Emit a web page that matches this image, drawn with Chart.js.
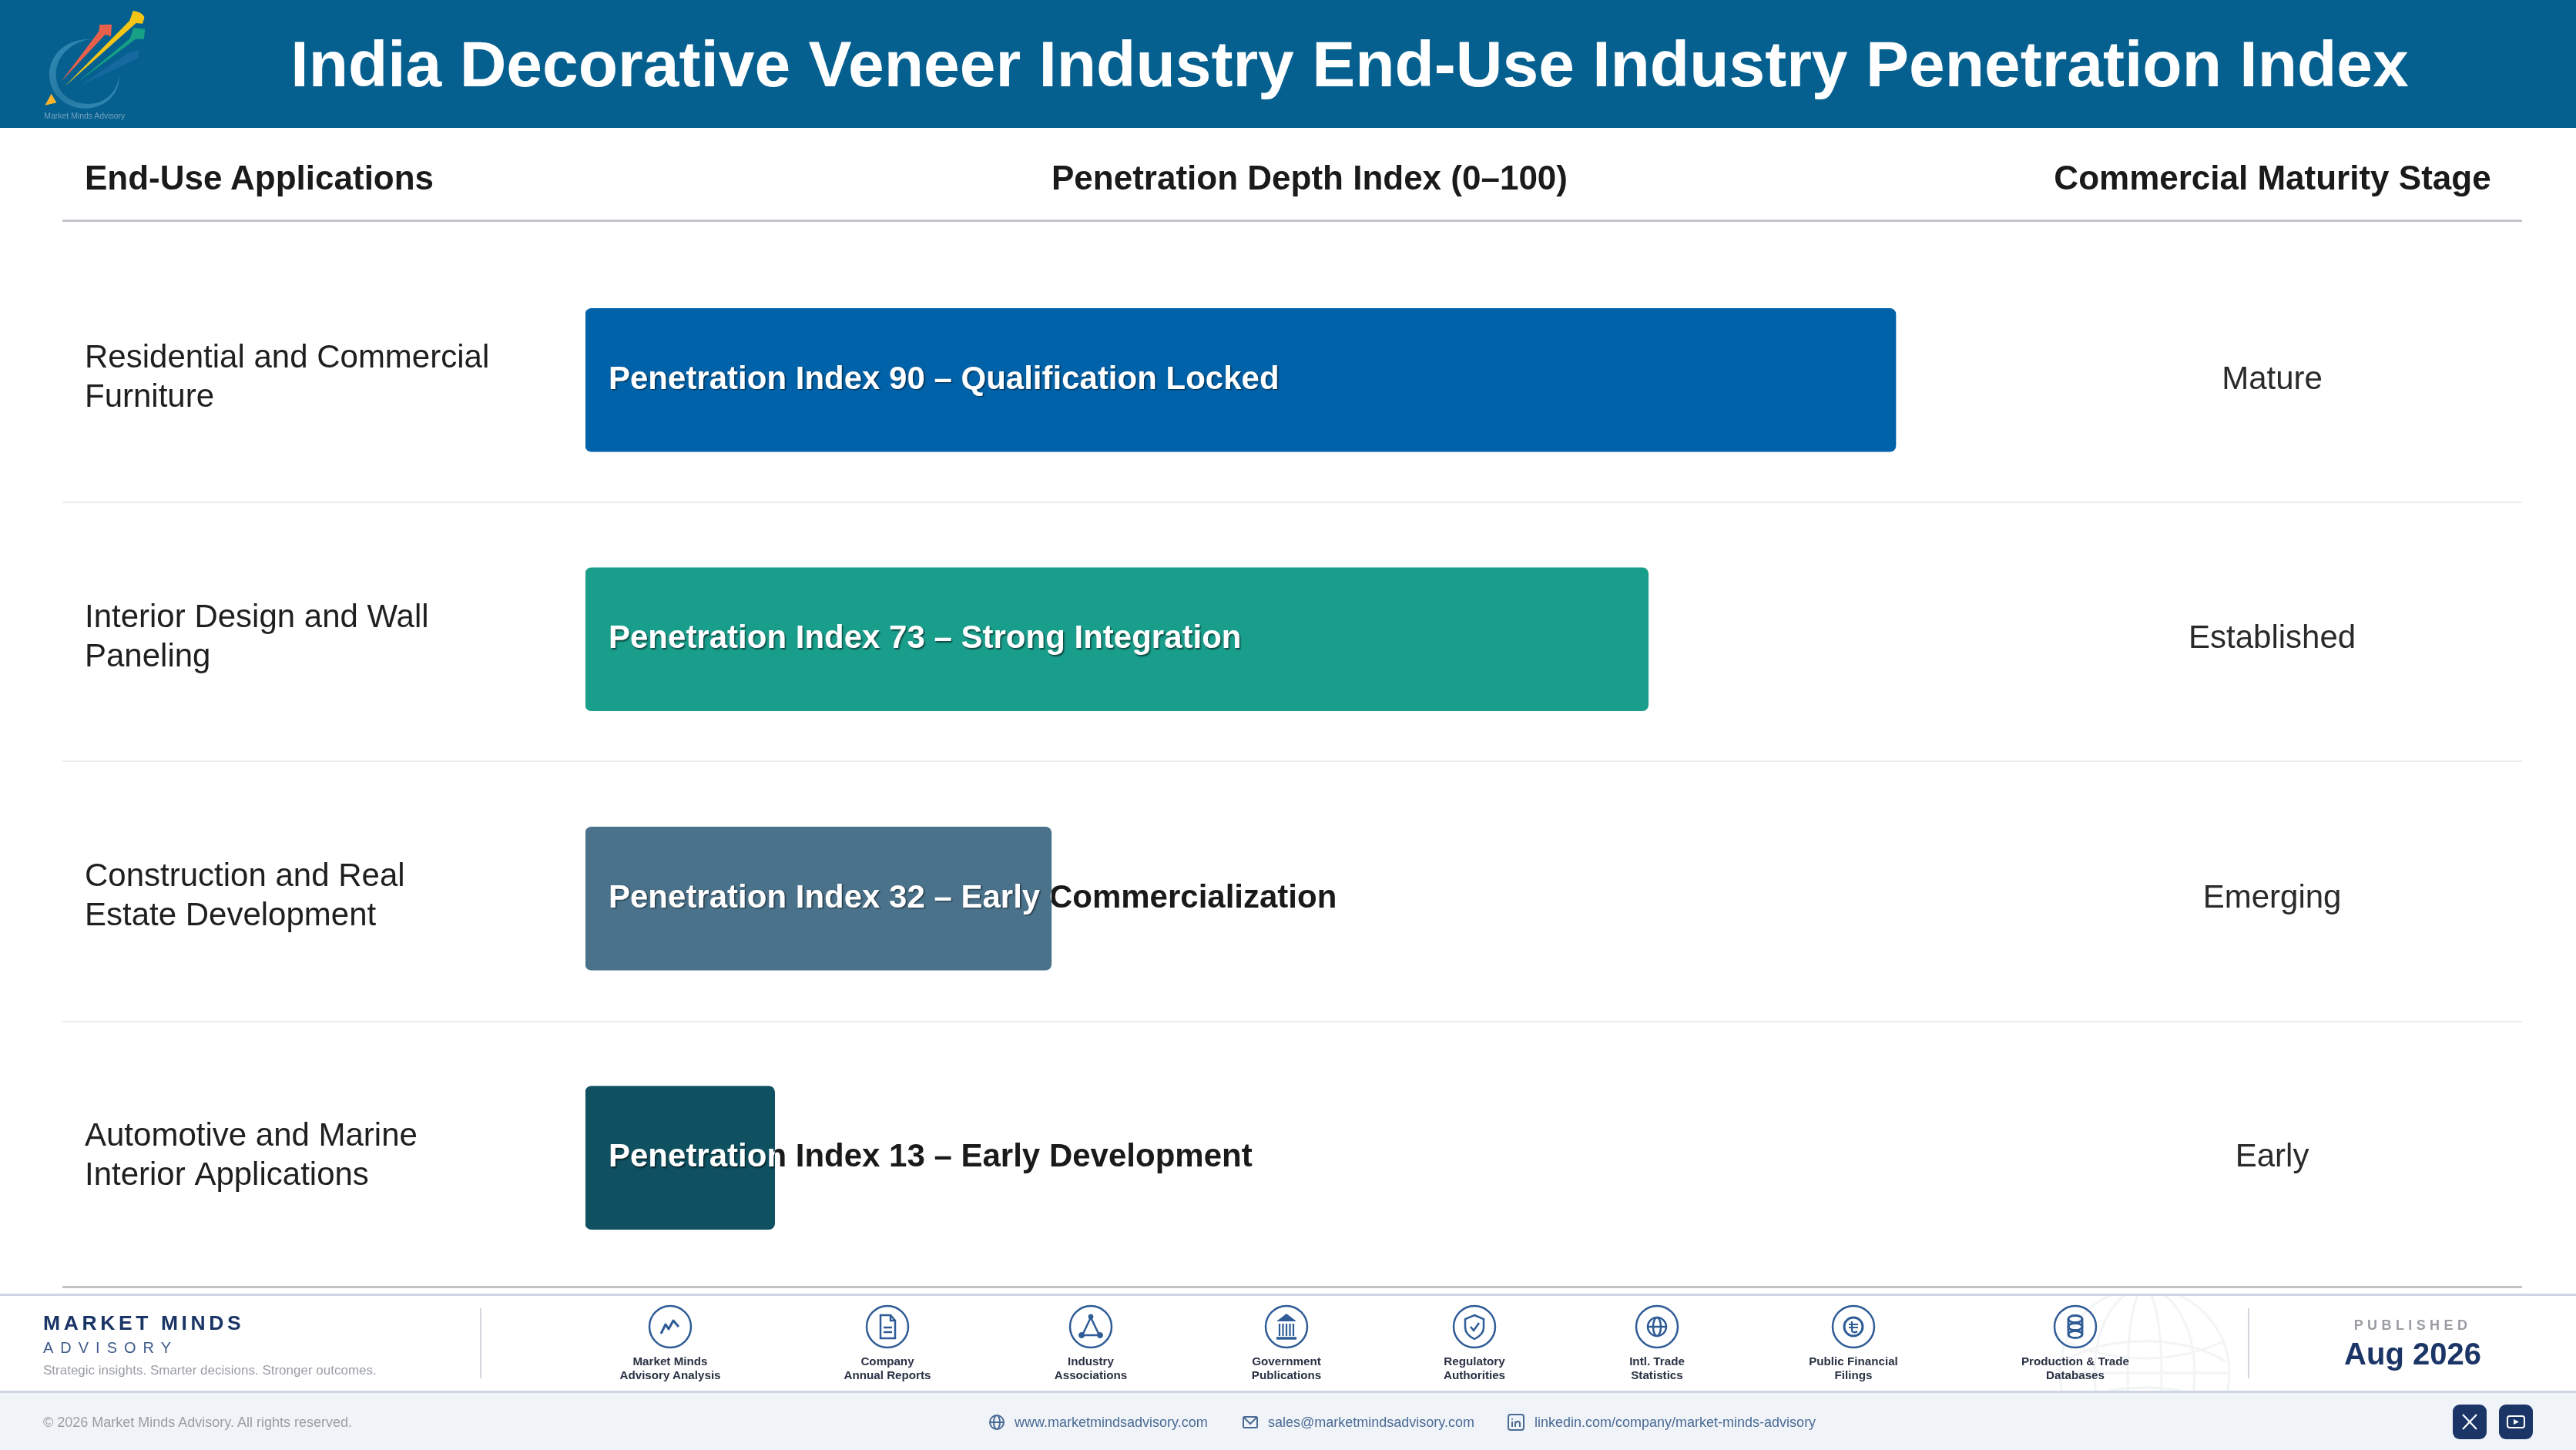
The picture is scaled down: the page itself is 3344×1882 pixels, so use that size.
<!DOCTYPE html>
<html><head><meta charset="utf-8">
<script src="https://cdn.jsdelivr.net/npm/chart.js@4"></script>
<style>
html,body{margin:0;padding:0;background:#fff;width:3344px;height:1882px;overflow:hidden;font-family:"Liberation Sans",Arial,sans-serif}
.t{position:absolute;white-space:nowrap;line-height:1}
.c{transform:translate(-50%,-50%)}
.l{transform:translateY(-50%)}
.ln{position:absolute}
svg{position:absolute;overflow:visible}
#chart{position:absolute;left:0;top:0;z-index:2}
.ov{z-index:3}
</style></head><body>
<script>
const categories=[["Residential and Commercial","Furniture"],["Interior Design and Wall","Paneling"],["Construction and Real","Estate Development"],["Automotive and Marine","Interior Applications"]];
const penetrationValues=[90,73,32,13];
const depthLabels=["Qualification Locked","Strong Integration","Early Commercialization","Early Development"];
const maturityStages=["Mature","Established","Emerging","Early"];
const barColors=["#0062A8","#1A9E8C","#4A728B","#0F5161"];
const sourceLabels=[["Market Minds","Advisory Analysis"],["Company","Annual Reports"],["Industry","Associations"],["Government","Publications"],["Regulatory","Authorities"],["Intl. Trade","Statistics"],["Public Financial","Filings"],["Production & Trade","Databases"]];
const sourceCentres=[870,1152,1416,1670,1914,2151,2406,2694];
const ink="#2F5C96";
const sourceIcons=[
'<path d="M-12 9L-6 -3L-2 3L4 -8L11 0" fill="none" stroke-width="3" stroke-linejoin="round"/>',
'<path d="M-9 -15H4L10 -8V15H-9Z" fill="none" stroke-width="2.5"/><path d="M4 -15V-8H10M-5 1H6M-5 7H6" fill="none" stroke-width="2.5"/>',
'<path d="M0 -12L-11 11H11Z" fill="none" stroke-width="2.5"/><circle cx="0" cy="-13" r="3" fill="'+ink+'"/><circle cx="-12" cy="11" r="3.5" fill="'+ink+'"/><circle cx="12" cy="11" r="3.5" fill="'+ink+'"/>',
'<path d="M0 -17L13 -7H-13Z" fill="'+ink+'" stroke="none"/><path d="M-9 -4V12M-4.5 -4V12M0 -4V12M4.5 -4V12M9 -4V12" stroke-width="2.2" fill="none"/><path d="M-13 15H13" stroke-width="3.5"/>',
'<path d="M0 -15L12 -10V1C12 9 6 13 0 16C-6 13 -12 9 -12 1V-10Z" fill="none" stroke-width="2.5"/><path d="M-5 0L-1 5L6 -5" fill="none" stroke-width="2.5"/>',
'<circle r="12" fill="none" stroke-width="2.5"/><ellipse rx="5" ry="12" fill="none" stroke-width="2.5"/><path d="M-12 0H12" stroke-width="2.5"/>',
'<circle r="12" fill="none" stroke-width="3"/><path d="M-2 -7V4C-2 8 2 8 5 6M-6 -3H6M-6 1H6" fill="none" stroke-width="2.2"/>',
'<ellipse cy="-10" rx="9" ry="4.5" fill="none" stroke-width="2.8"/><ellipse cy="0" rx="9" ry="4.5" fill="none" stroke-width="2.8"/><ellipse cy="10" rx="9" ry="4.5" fill="none" stroke-width="2.8"/><path d="M-9 -10V10M9 -10V10" stroke-width="2.8"/>'
];
function add(html){document.body.insertAdjacentHTML('beforeend',html)}
function text(s,x,y,size,color,opt){opt=opt||{};add(`<div class="t ov ${opt.center?'c':'l'}" style="left:${x}px;top:${y}px;font-size:${size}px;color:${color};font-weight:${opt.bold?700:400};letter-spacing:${opt.ls||0}px">${s}</div>`)}
function rule(x,y,w,h,c,z){add(`<div class="ln" style="left:${x}px;top:${y}px;width:${w}px;height:${h}px;background:${c};z-index:${z||1}"></div>`)}

/* header band */
rule(0,0,3344,166,"#05608F",1);
text("India Decorative Veneer Industry End-Use Industry Penetration Index",1752,83,84,"#fff",{center:1,bold:1});
add(`<svg class="ov" style="left:0;top:0;z-index:3" width="400" height="180" viewBox="0 0 1200 540">
<defs><linearGradient id="arc" x1="0" y1="0" x2="1" y2="1"><stop offset="0" stop-color="#3C93BE"/><stop offset=".5" stop-color="#2A7EA5"/><stop offset="1" stop-color="#3C93BE"/></linearGradient></defs>
<path d="M355 152C255 150 192 215 192 290C192 370 260 424 335 422C410 420 468 365 465 290C455 370 400 408 335 404C262 400 218 350 218 290C218 222 270 165 355 152Z" fill="url(#arc)" opacity=".85"/>
<path d="M238 318L385 122L388 96L435 95L432 142L410 134Z" fill="#E8604C"/>
<path d="M250 338L505 80L518 42C540 45 562 55 562 70L555 92L530 90Z" fill="#F5C518"/>
<path d="M300 322L506 150L520 108L565 113L560 152L528 152Z" fill="#17A085"/>
<path d="M310 335L500 205L540 195L540 225Z" fill="#1F6FA8" opacity=".6"/>
<path d="M175 410L200 365L220 400Z" fill="#FDB52B"/>
<text x="172" y="462" font-size="30" fill="#8FB3C8" fill-opacity=".8" font-family="Liberation Sans" textLength="315" lengthAdjust="spacingAndGlyphs">Market Minds Advisory</text>
</svg>`);

/* column headings */
text("End-Use Applications",110,231,44,"#1a1a1a",{bold:1});
text("Penetration Depth Index (0–100)",1700,231,44,"#1a1a1a",{center:1,bold:1});
text("Commercial Maturity Stage",2950,231,44,"#1a1a1a",{center:1,bold:1});
rule(81,285,3193,3,"#C4C6CB");
rule(81,651,3193,2,"#ECECEC");
rule(81,987,3193,2,"#ECECEC");
rule(81,1325,3193,2,"#ECECEC");
rule(81,1669,3193,3,"#C0C2C6");

/* footer bands */
add(`<div style="position:absolute;left:0;top:1680px;width:3344px;height:126px;background:#fff;overflow:hidden;z-index:1"><svg style="left:2674px;top:-8px" width="220" height="220" viewBox="-110 -110 220 220" fill="none" stroke="#F3F4F6" stroke-width="3"><circle r="110"/><ellipse rx="65" ry="110"/><ellipse rx="22" ry="110"/><path d="M-110 0H110M-100 -40C-40 -12 40 -12 100 -40M-100 40C-40 12 40 12 100 40"/><path d="M-105 -15C-50 -50 50 -50 105 -15"/></svg></div>`);
rule(0,1679,3344,3,"#D0D5E3",2);
rule(0,1806,3344,76,"#F0F4F9",1);
rule(0,1805,3344,3,"#D0D5E3",2);
rule(623,1698,2,91,"#D3D6DC",2);
rule(2918,1698,2,91,"#D3D6DC",2);
text("MARKET MINDS",56,1717,26.5,"#1A3566",{bold:1,ls:4.6});
text("ADVISORY",56,1749,20,"#3F5C8A",{ls:9});
text("Strategic insights. Smarter decisions. Stronger outcomes.",56,1778,17,"#9A9DA3");
sourceLabels.forEach((lab,i)=>{
 const x=sourceCentres[i];
 add(`<svg class="ov" style="left:${x}px;top:1722px;z-index:3" width="1" height="1" stroke="${ink}" ><circle r="27" fill="none" stroke-width="2.5"/>${sourceIcons[i]}</svg>`);
 text(lab[0],x,1767,15.2,"#2A3144",{center:1,bold:1});
 text(lab[1],x,1785,15.2,"#2A3144",{center:1,bold:1});
});
text("PUBLISHED",3132,1720,18,"#9A9DA3",{center:1,bold:1,ls:5.4});
text("Aug 2026",3132,1757,40,"#1A3566",{center:1,bold:1});

/* contact strip */
const contact="#4A6A94";
text("© 2026 Market Minds Advisory. All rights reserved.",56,1846,18,"#9A9DA3");
text("www.marketmindsadvisory.com",1317,1846,18,contact);
text("sales@marketmindsadvisory.com",1646,1846,18,contact);
text("linkedin.com/company/market-minds-advisory",1992,1846,18,contact);
add(`<svg class="ov" style="left:1294px;top:1846px;z-index:3" width="1" height="1" stroke="${contact}" fill="none" stroke-width="2"><circle r="9"/><ellipse rx="4" ry="9"/><path d="M-9 0H9"/></svg>
<svg class="ov" style="left:1623px;top:1846px;z-index:3" width="1" height="1" stroke="${contact}" fill="none" stroke-width="2"><rect x="-9" y="-7" width="18" height="14" rx="1.5"/><path d="M-8 -6L0 2L8 -6"/></svg>
<svg class="ov" style="left:1968px;top:1846px;z-index:3" width="1" height="1" stroke="${contact}" fill="none" stroke-width="2"><rect x="-10" y="-10" width="20" height="20" rx="3"/><path d="M-5 -1V6M-1 6V-1M-1 2C0 -2 5 -2 5 2V6"/><path d="M-5 -5V-3.5"/></svg>
<svg class="ov" style="left:3184px;top:1823px;z-index:3" width="44" height="45"><rect width="44" height="45" rx="9" fill="#1A3566"/><path d="M13 13L31 32M31 13L13 32" stroke="#fff" stroke-width="2.2"/></svg>
<svg class="ov" style="left:3244px;top:1823px;z-index:3" width="44" height="45"><rect width="44" height="45" rx="9" fill="#1A3566"/><rect x="11" y="15" width="22" height="15" rx="3" fill="none" stroke="#fff" stroke-width="2"/><path d="M19 19L26 22.5L19 26Z" fill="#fff"/></svg>`);

add('<canvas id="chart" width="3344" height="1882"></canvas>');

const barLabelPlugin={id:'barLabel',
 beforeDraw(chart){
  [['y',-2],['y1',0]].forEach(([id,shift])=>{
   const s=chart.scales[id];
   s._labelItems=s._computeLabelItems(chart.chartArea);
   s._labelItems.forEach(it=>{it.textOffset+=shift});
  });
 },
 afterDatasetsDraw(chart){
 const ctx=chart.ctx,meta=chart.getDatasetMeta(0);
 meta.data.forEach((bar,i)=>{
  const s=`Penetration Index ${penetrationValues[i]} – ${depthLabels[i]}`;
  const left=bar.base, right=bar.x, top=bar.y-bar.height/2, h=bar.height, tx=left+30, ty=bar.y;
  ctx.save();
  ctx.font='700 42px "Liberation Sans"';ctx.textBaseline='middle';ctx.textAlign='left';
  ctx.save();ctx.beginPath();ctx.rect(right,top,3344-right,h);ctx.clip();
  ctx.fillStyle='#1a1a1a';ctx.fillText(s,tx,ty);ctx.restore();
  ctx.beginPath();ctx.rect(left,top,right-left,h);ctx.clip();
  ctx.shadowColor='rgba(0,0,0,.55)';ctx.shadowOffsetX=1.5;ctx.shadowOffsetY=1.5;ctx.shadowBlur=2;
  ctx.fillStyle='#fff';ctx.fillText(s,tx,ty);
  ctx.restore();
 });
}};

new Chart(document.getElementById('chart'),{
 type:'bar',
 plugins:[barLabelPlugin],
 data:{labels:categories,datasets:[{data:penetrationValues,backgroundColor:barColors,borderRadius:8,borderSkipped:false,barThickness:186}]},
 options:{
  indexAxis:'y',responsive:false,animation:false,devicePixelRatio:1,
  layout:{padding:{left:110,right:0,top:325,bottom:211}},
  plugins:{legend:{display:false},tooltip:{enabled:false}},
  scales:{
   x:{display:false,min:0,max:100},
   y:{position:'left',grid:{display:false,drawTicks:false},border:{display:false},
      afterFit(s){s.width=650},
      ticks:{crossAlign:'far',color:'#1f1f1f',font:{family:'Liberation Sans',size:42,lineHeight:1.22}}},
   y1:{type:'category',labels:maturityStages,position:'right',offset:true,grid:{display:false,drawTicks:false},border:{display:false},
      afterFit(s){s.width=694;s.paddingTop=0;s.paddingBottom=0},
      ticks:{crossAlign:'center',padding:191,color:'#2a2a2a',font:{family:'Liberation Sans',size:42}}}
  }
 }
});
</script>
</body></html>
